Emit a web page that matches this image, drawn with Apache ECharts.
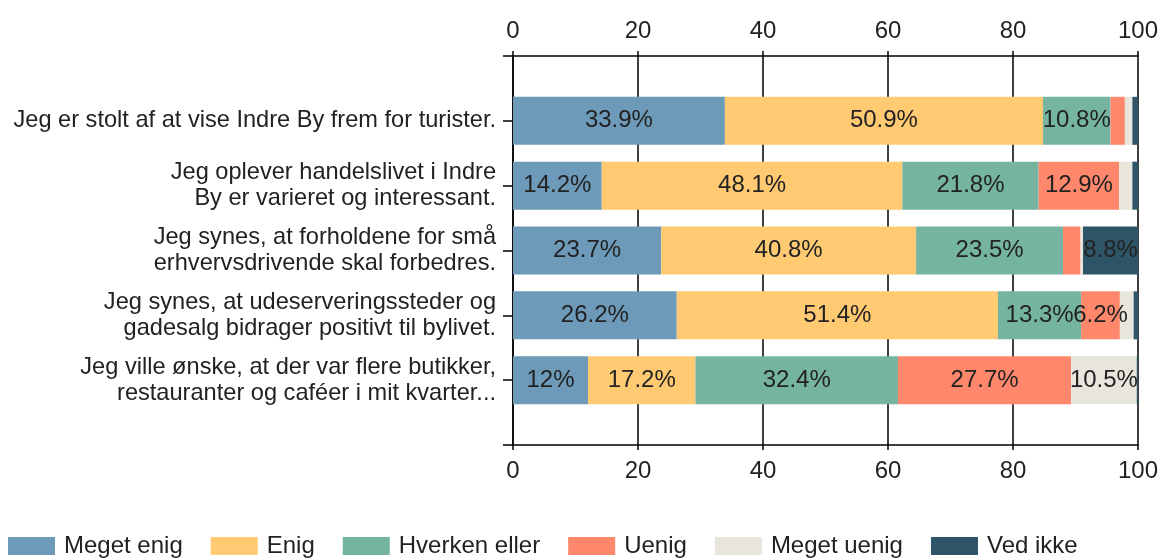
<!DOCTYPE html>
<html>
<head>
<meta charset="utf-8">
<script src="https://cdn.jsdelivr.net/npm/echarts@6/dist/echarts.min.js"></script>
<style>
  html, body { margin: 0; padding: 0; background: #fff; }
  #main { width: 1160px; height: 559px; }
</style>
</head>
<body>
<div id="main"></div>
<script>
// spørgsmål (kategorier)
const categories = [
  'Jeg er stolt af at vise Indre By frem for turister.',
  'Jeg oplever handelslivet i Indre\nBy er varieret og interessant.',
  'Jeg synes, at forholdene for små\nerhvervsdrivende skal forbedres.',
  'Jeg synes, at udeserveringssteder og\ngadesalg bidrager positivt til bylivet.',
  'Jeg ville ønske, at der var flere butikker,\nrestauranter og caféer i mit kvarter...'
]
const seriesNames = ['Meget enig', 'Enig', 'Hverken eller', 'Uenig', 'Meget uenig', 'Ved ikke']

// procent pr. svar
const megetEnig = [33.9, 14.2, 23.7, 26.2, 12]
const enig = [50.9, 48.1, 40.8, 51.4, 17.2]
const hverkenEller = [10.8, 21.8, 23.5, 13.3, 32.4]
const uenig = [2.3, 12.9, 2.8, 6.2, 27.7]
const megetUenig = [1.2, 2.1, 0.4, 2.2, 10.5]
const vedIkke = [0.9, 0.9, 8.8, 0.7, 0.2]

const xTicks = [0, 20, 40, 60, 80, 100]

const colors = ['#6d9ab9', '#ffca72', '#74b4a0', '#ff876b', '#e8e5dd', '#2e5467']
const font = 'Liberation Sans, Arial, sans-serif'
const fs = 24

// tom kategori i top og bund, så akserne ligger en halv række udenfor
const yData = [''].concat(categories, [''])
const pad = arr => [null].concat(arr, [null])

const allValues = [megetEnig, enig, hverkenEller, uenig, megetUenig, vedIkke]

let myChart = echarts.init(document.getElementById('main'))

const xAxisBase = {
  type: 'value',
  min: xTicks[0],
  max: xTicks[xTicks.length - 1],
  interval: xTicks[1] - xTicks[0],
  axisLine: { show: true, lineStyle: { color: '#000', width: 1.5 } },
  axisTick: { show: true, length: 5, lineStyle: { color: '#000', width: 1.5 } }
}

myChart.setOption({
  animation: false,
  textStyle: { fontFamily: font },
  grid: {
    left: 513,
    right: 22,
    top: 56,
    bottom: 114,
    containLabel: false,
    outerBoundsMode: 'none'
  },
  legend: {
    data: seriesNames,
    left: 8,
    top: 534,
    padding: 0,
    itemWidth: 47,
    itemHeight: 18,
    itemGap: 28,
    icon: 'rect',
    textStyle: { fontSize: fs, color: '#222', fontFamily: font, padding: [0, 0, 0, 4] }
  },
  xAxis: [
    Object.assign({}, xAxisBase, {
      position: 'top',
      axisLabel: { color: '#222', fontSize: fs, fontFamily: font, margin: 13 },
      splitLine: { show: true, lineStyle: { color: '#000', width: 1.5 } }
    }),
    Object.assign({}, xAxisBase, {
      position: 'bottom',
      axisLabel: { color: '#222', fontSize: fs, fontFamily: font, margin: 14 },
      splitLine: { show: false }
    })
  ],
  yAxis: {
    type: 'category',
    inverse: true,
    boundaryGap: false,
    data: yData,
    axisLine: { show: true, lineStyle: { color: '#000', width: 1.5 } },
    axisTick: { show: true, length: 10, interval: 0, lineStyle: { color: '#000', width: 1.5 } },
    axisLabel: {
      interval: 0,
      color: '#222',
      fontSize: 23.6,
      lineHeight: 26,
      fontFamily: font,
      align: 'right',
      margin: 17
    },
    splitLine: { show: false }
  },
  series: seriesNames.map((name, i) => ({
    name: name,
    type: 'bar',
    stack: 'total',
    xAxisIndex: 0,
    barWidth: 48,
    itemStyle: { color: colors[i] },
    label: {
      show: true,
      position: 'inside',
      color: '#222',
      fontSize: fs,
      fontFamily: font,
      formatter: p => (p.value >= 5 ? p.value + '%' : '')
    },
    data: pad(allValues[i])
  }))
})
</script>
</body>
</html>
